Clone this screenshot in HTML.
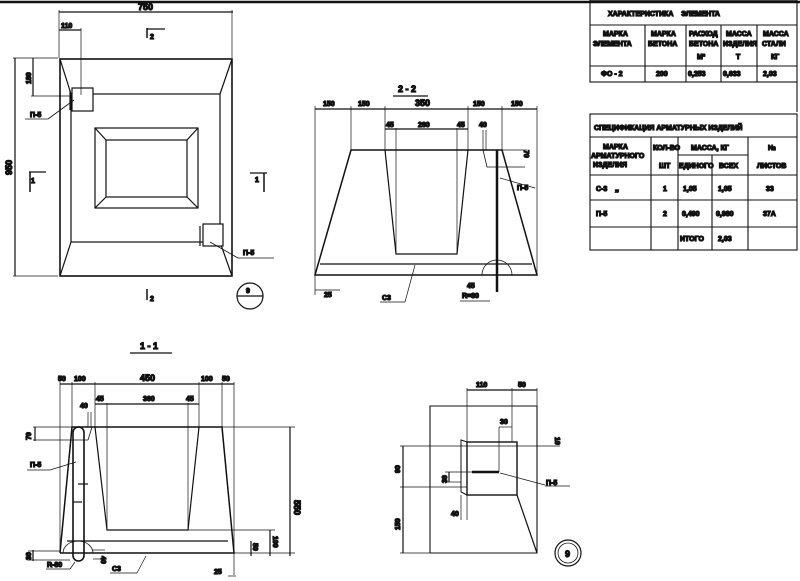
<!DOCTYPE html>
<html><head><meta charset="utf-8"><style>
html,body{margin:0;padding:0;background:#fff}
svg{display:block}
text{font-family:"Liberation Sans","DejaVu Sans",sans-serif;font-size:9px;fill:#111;font-weight:bold}
.t{font-size:7px}
</style></head><body>
<svg width="800" height="581" viewBox="0 0 800 581" xmlns="http://www.w3.org/2000/svg" stroke="#111" fill="none" stroke-width="1.2">
<line x1="0" y1="2" x2="800" y2="2" stroke-width="2.5"/>
<!-- PLAN -->
<rect x="60" y="59" width="172" height="217" stroke-width="1.6"/>
<rect x="71" y="94" width="149" height="148"/>
<line x1="60" y1="59" x2="71" y2="94"/><line x1="232" y1="59" x2="220" y2="94"/>
<line x1="60" y1="276" x2="71" y2="242"/><line x1="232" y1="276" x2="220" y2="242"/>
<rect x="95" y="128" width="103" height="80"/>
<rect x="106" y="140" width="81" height="57"/>
<line x1="95" y1="128" x2="106" y2="140"/><line x1="198" y1="128" x2="187" y2="140"/>
<line x1="95" y1="208" x2="106" y2="197"/><line x1="198" y1="208" x2="187" y2="197"/>
<rect x="72" y="88" width="21" height="23" fill="#fff"/><line x1="70" y1="90" x2="70" y2="110"/>
<rect x="203" y="224" width="20" height="22" fill="#fff"/><line x1="200" y1="226" x2="200" y2="246"/>
<line x1="59" y1="12" x2="233" y2="12"/><line x1="59" y1="10" x2="59" y2="58" stroke-width="0.7"/><line x1="232" y1="10" x2="232" y2="58" stroke-width="0.7"/>
<text x="138" y="10">750</text>
<line x1="59" y1="30" x2="81" y2="30"/><line x1="81" y1="28" x2="81" y2="95" stroke-width="0.7"/><text x="61" y="28" class="t">110</text>
<line x1="15" y1="58" x2="15" y2="276"/><line x1="13" y1="58" x2="58" y2="58" stroke-width="0.7"/><line x1="13" y1="276" x2="58" y2="276" stroke-width="0.7"/>
<text x="12" y="175" transform="rotate(-90 12 175)">950</text>
<line x1="33" y1="58" x2="33" y2="96"/><line x1="31" y1="96" x2="70" y2="96" stroke-width="0.7"/>
<text x="31" y="84" class="t" transform="rotate(-90 31 84)">180</text>
<text x="30" y="117" class="t">П-5</text><line x1="25" y1="119" x2="48" y2="119" stroke-width="0.8"/><line x1="48" y1="119" x2="74" y2="100" stroke-width="0.8"/>
<text x="243" y="255" class="t">П-5</text><line x1="238" y1="258" x2="274" y2="258" stroke-width="0.8"/><line x1="238" y1="258" x2="210" y2="242" stroke-width="0.8"/>
<line x1="147" y1="28" x2="147" y2="38" stroke-width="1.5"/><line x1="147" y1="29" x2="165" y2="29"/><text x="150" y="39" class="t">2</text>
<line x1="147" y1="289" x2="147" y2="300" stroke-width="1.5"/><text x="150" y="301" class="t">2</text>
<line x1="29" y1="172" x2="46" y2="172"/><line x1="30" y1="172" x2="30" y2="192" stroke-width="1.5"/><text x="31" y="183" class="t">1</text>
<line x1="250" y1="173" x2="267" y2="173"/><line x1="264" y1="173" x2="264" y2="192" stroke-width="1.5"/><text x="255" y="182" class="t">1</text>
<circle cx="250" cy="296" r="13"/><line x1="237" y1="296" x2="263" y2="296"/><text x="246" y="293" class="t">9</text>
<!-- SECTION 2-2 -->
<text x="398" y="92">2 - 2</text><line x1="393" y1="96" x2="428" y2="96"/>
<polygon points="351,150 502,150 537,275 315,275" stroke-width="1.5"/>
<polyline points="385,150 396,254 457,254 468,150"/>
<line x1="320" y1="264" x2="532" y2="264"/>
<line x1="315" y1="109" x2="537" y2="109"/>
<g stroke-width="0.7"><line x1="315" y1="106" x2="315" y2="295"/><line x1="351" y1="106" x2="351" y2="150"/><line x1="385" y1="106" x2="385" y2="150"/><line x1="468" y1="106" x2="468" y2="150"/><line x1="502" y1="106" x2="502" y2="150"/><line x1="537" y1="106" x2="537" y2="275"/>
<line x1="396" y1="128" x2="396" y2="254"/><line x1="457" y1="128" x2="457" y2="254"/></g>
<line x1="385" y1="129" x2="468" y2="129"/>
<text x="323" y="106" class="t">150</text><text x="358" y="106" class="t">150</text><text x="415" y="106">350</text><text x="473" y="106" class="t">150</text><text x="511" y="106" class="t">150</text>
<text x="386" y="127" class="t">45</text><text x="418" y="127" class="t">260</text><text x="457" y="127" class="t">45</text><text x="479" y="127" class="t">40</text>
<line x1="483" y1="130" x2="483" y2="150" stroke-width="0.7"/><line x1="486" y1="130" x2="486" y2="150" stroke-width="0.7"/>
<polyline points="483,150 487,167 525,167" stroke-width="0.8"/><line x1="502" y1="150" x2="527" y2="150" stroke-width="0.7"/>
<text x="524" y="150" class="t" transform="rotate(90 524 150)">70</text>
<line x1="497" y1="150" x2="497" y2="292" stroke-width="2.5"/>
<path d="M482,275 A15,15 0 0 1 512,275" stroke-width="0.8"/>
<text x="517" y="190" class="t">П-5</text><line x1="500" y1="178" x2="535" y2="188" stroke-width="0.7"/>
<text x="324" y="297" class="t">25</text><line x1="315" y1="290" x2="340" y2="290" stroke-width="0.7"/>
<text x="382" y="300" class="t">C3</text><line x1="380" y1="302" x2="405" y2="302" stroke-width="0.7"/><line x1="405" y1="302" x2="415" y2="265" stroke-width="0.7"/>
<text x="462" y="298" class="t">R=80</text><line x1="460" y1="301" x2="490" y2="301" stroke-width="0.7"/>
<text x="467" y="288" class="t">45</text>
<!-- SECTION 1-1 -->
<text x="140" y="349">1 - 1</text><line x1="130" y1="353" x2="172" y2="353"/>
<polyline points="60,553 72,427 222,427 234,553 60,553" stroke-width="1.5"/>
<polyline points="95,427 107,530 188,530 199,427"/>
<line x1="67" y1="541" x2="228" y2="541"/>
<line x1="60" y1="384" x2="234" y2="384"/>
<g stroke-width="0.7"><line x1="60" y1="382" x2="60" y2="553"/><line x1="72" y1="382" x2="72" y2="427"/><line x1="95" y1="382" x2="95" y2="427"/><line x1="199" y1="382" x2="199" y2="427"/><line x1="222" y1="382" x2="222" y2="427"/><line x1="234" y1="382" x2="234" y2="575"/>
<line x1="107" y1="403" x2="107" y2="530"/><line x1="188" y1="403" x2="188" y2="530"/>
<line x1="222" y1="427" x2="295" y2="427"/><line x1="188" y1="530" x2="275" y2="530"/><line x1="228" y1="553" x2="295" y2="553"/>
<line x1="33" y1="427" x2="72" y2="427"/><line x1="33" y1="440" x2="88" y2="440"/>
<line x1="28" y1="551" x2="60" y2="551"/><line x1="28" y1="560" x2="70" y2="560"/></g>
<line x1="95" y1="404" x2="199" y2="404"/>
<line x1="290" y1="427" x2="290" y2="556"/><line x1="270" y1="530" x2="270" y2="556"/><line x1="251" y1="541" x2="251" y2="556"/>
<line x1="35" y1="427" x2="35" y2="441"/><line x1="33" y1="550" x2="33" y2="561"/>
<text x="58" y="381" class="t">50</text><text x="74" y="381" class="t">100</text><text x="140" y="381">450</text><text x="201" y="381" class="t">100</text><text x="222" y="381" class="t">50</text>
<text x="96" y="401" class="t">45</text><text x="143" y="401" class="t">360</text><text x="186" y="401" class="t">45</text><text x="80" y="408" class="t">40</text>
<line x1="88" y1="412" x2="88" y2="427" stroke-width="0.7"/><line x1="91" y1="412" x2="91" y2="427" stroke-width="0.7"/>
<polyline points="92,427 88,440" stroke-width="0.8"/>
<rect x="73" y="427" width="11" height="134" rx="5.5" stroke-width="1.6"/>
<line x1="78" y1="484" x2="88" y2="484"/><line x1="73" y1="502" x2="82" y2="502"/>
<path d="M63,553 A15,12 0 0 1 93,553" stroke-width="0.8"/>
<line x1="93" y1="550" x2="105" y2="550" stroke-width="0.7"/><line x1="93" y1="559" x2="105" y2="559" stroke-width="0.7"/>
<text x="31" y="440" class="t" transform="rotate(-90 31 440)">70</text>
<text x="294" y="500" transform="rotate(90 294 500)">550</text>
<text x="273" y="536" class="t" transform="rotate(90 273 536)">100</text>
<text x="253" y="543" class="t" transform="rotate(90 253 543)">50</text>
<text x="31" y="560" class="t" transform="rotate(-90 31 560)">30</text>
<text x="101" y="556" class="t" transform="rotate(90 101 556)">40</text>
<text x="30" y="467" class="t">П-5</text><line x1="27" y1="470" x2="50" y2="470" stroke-width="0.7"/><line x1="50" y1="470" x2="76" y2="462" stroke-width="0.7"/>
<text x="47" y="567" class="t">R-80</text><line x1="46" y1="569" x2="70" y2="569" stroke-width="0.7"/><line x1="70" y1="569" x2="75" y2="562" stroke-width="0.7"/>
<text x="112" y="571" class="t">C3</text><line x1="110" y1="573" x2="137" y2="573" stroke-width="0.7"/><line x1="137" y1="573" x2="146" y2="556" stroke-width="0.7"/>
<text x="214" y="574" class="t">25</text><line x1="228" y1="576" x2="236" y2="576" stroke-width="0.7"/>
<!-- DETAIL -->
<polyline points="430,553 430,406 537,406 537,553 430,553" stroke-width="1.1"/>
<rect x="467" y="442" width="50" height="53" stroke-width="1.4"/>
<polyline points="467,442 461,440 461,492 467,495" stroke-width="1"/>
<line x1="517" y1="495" x2="537" y2="553"/>
<line x1="467" y1="390" x2="537" y2="390"/>
<g stroke-width="0.7"><line x1="467" y1="388" x2="467" y2="442"/><line x1="512" y1="388" x2="512" y2="442"/><line x1="537" y1="388" x2="537" y2="406"/>
<line x1="400" y1="446" x2="560" y2="446"/><line x1="400" y1="487" x2="467" y2="487"/><line x1="400" y1="553" x2="430" y2="553"/>
<line x1="499" y1="427" x2="512" y2="427"/><line x1="499" y1="427" x2="499" y2="472"/><line x1="445" y1="472" x2="499" y2="472"/><line x1="445" y1="482" x2="461" y2="482"/>
<line x1="467" y1="495" x2="467" y2="520"/><line x1="461" y1="495" x2="461" y2="520"/></g>
<line x1="403" y1="446" x2="403" y2="553"/><line x1="449" y1="472" x2="449" y2="482"/>
<line x1="472" y1="472" x2="499" y2="472" stroke-width="2.5"/>
<text x="476" y="387" class="t">110</text><text x="518" y="387" class="t">50</text><text x="500" y="424" class="t">30</text>
<text x="555" y="437" class="t" transform="rotate(90 555 437)">10</text>
<text x="400" y="473" class="t" transform="rotate(-90 400 473)">90</text>
<text x="400" y="530" class="t" transform="rotate(-90 400 530)">150</text>
<text x="447" y="483" class="t" transform="rotate(-90 447 483)">30</text>
<text x="451" y="516" class="t">40</text>
<text x="546" y="485" class="t">П-5</text><line x1="500" y1="473" x2="545" y2="485" stroke-width="0.7"/><line x1="545" y1="486" x2="570" y2="486" stroke-width="0.7"/>
<circle cx="568" cy="553" r="13"/><circle cx="568" cy="553" r="10" stroke-width="0.8"/><text x="565" y="557">9</text>
<!-- TABLE 1 -->
<g stroke-width="1.1">
<rect x="590" y="0" width="207" height="82"/>
<line x1="590" y1="25" x2="797" y2="25"/><line x1="590" y1="66" x2="797" y2="66"/>
<line x1="645" y1="25" x2="645" y2="82"/><line x1="686" y1="25" x2="686" y2="82"/><line x1="721" y1="25" x2="721" y2="82"/><line x1="757" y1="25" x2="757" y2="82"/>
<line x1="797" y1="82" x2="797" y2="112"/>
</g>
<text x="608" y="16" class="t">ХАРАКТЕРИСТИКА&#160;&#160;&#160;&#160;ЭЛЕМЕНТА</text>
<text x="603" y="36" class="t">МАРКА</text><text x="593" y="46" class="t">ЭЛЕМЕНТА</text>
<text x="651" y="36" class="t">МАРКА</text><text x="648" y="46" class="t">БЕТОНА</text>
<text x="689" y="36" class="t">РАСХОД</text><text x="689" y="46" class="t">БЕТОНА</text><text x="697" y="59" class="t">М³</text>
<text x="726" y="36" class="t">МАССА</text><text x="723" y="46" class="t">ИЗДЕЛИЯ</text><text x="736" y="59" class="t">Т</text>
<text x="763" y="36" class="t">МАССА</text><text x="762" y="46" class="t">СТАЛИ</text><text x="771" y="59" class="t">КГ</text>
<text x="601" y="76" class="t">ФО - 2</text><text x="656" y="76" class="t">200</text><text x="688" y="76" class="t">0,253</text><text x="723" y="76" class="t">0,633</text><text x="763" y="76" class="t">2,03</text>
<!-- TABLE 2 -->
<g stroke-width="1.1">
<rect x="590" y="114" width="207" height="136"/>
<line x1="590" y1="137" x2="797" y2="137"/><line x1="590" y1="175" x2="797" y2="175"/><line x1="590" y1="200" x2="797" y2="200"/><line x1="590" y1="227" x2="797" y2="227"/>
<line x1="651" y1="137" x2="651" y2="250"/><line x1="678" y1="137" x2="678" y2="250"/><line x1="712" y1="155" x2="712" y2="250"/><line x1="748" y1="137" x2="748" y2="250"/>
<line x1="678" y1="155" x2="748" y2="155"/>
</g>
<text x="594" y="130" class="t">СПЕЦИФИКАЦИЯ АРМАТУРНЫХ ИЗДЕЛИЙ</text>
<text x="603" y="149" class="t">МАРКА</text><text x="591" y="158" class="t">АРМАТУРНОГО</text><text x="593" y="167" class="t">ИЗДЕЛИЯ</text>
<text x="653" y="150" class="t">КОЛ-ВО</text><text x="659" y="168" class="t">ШТ</text>
<text x="691" y="150" class="t">МАССА, КГ</text>
<text x="679" y="168" class="t">ЕДИНОГО</text><text x="719" y="168" class="t">ВСЕХ</text>
<text x="768" y="150" class="t">№</text><text x="757" y="168" class="t">ЛИСТОВ</text>
<text x="596" y="191" class="t">С-3&#160;&#160;&#160;&#160;,,</text><text x="663" y="191" class="t">1</text><text x="683" y="191" class="t">1,05</text><text x="718" y="191" class="t">1,05</text><text x="766" y="191" class="t">33</text>
<text x="596" y="216" class="t">П-5</text><text x="663" y="216" class="t">2</text><text x="682" y="216" class="t">0,490</text><text x="716" y="216" class="t">0,980</text><text x="763" y="216" class="t">37А</text>
<text x="680" y="241" class="t">ИТОГО</text><text x="718" y="241" class="t">2,03</text>
</svg>
</body></html>
